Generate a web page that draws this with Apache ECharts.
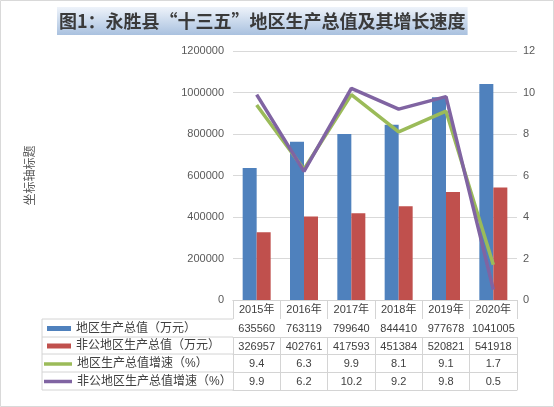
<!DOCTYPE html>
<html><head><meta charset="utf-8">
<script src="https://cdn.jsdelivr.net/npm/echarts@6/dist/echarts.min.js"></script>
<style>html,body{margin:0;padding:0;background:#fff}#c{width:554px;height:407px}</style>
</head><body><div id="c"></div>
<script>
const categories = ['2015年','2016年','2017年','2018年','2019年','2020年'];
const gdp = [635560, 763119, 799640, 844410, 977678, 1041005];
const nonPublicGdp = [326957, 402761, 417593, 451384, 520821, 541918];
const gdpGrowth = [9.4, 6.3, 9.9, 8.1, 9.1, 1.7];
const nonPublicGrowth = [9.9, 6.2, 10.2, 9.2, 9.8, 0.5];
const seriesNames = ['地区生产总值（万元）','非公地区生产总值（万元）','地区生产总值增速（%）','非公地区生产总值增速（%）'];
const titleText = '图1：永胜县“十三五”地区生产总值及其增长速度';
const leftAxisName = '坐标轴标题';
const leftScale = {min: 0, max: 1200000, interval: 200000};
const rightScale = {min: 0, max: 12, interval: 2};

const FONT = '"Liberation Sans", "Noto Sans CJK SC", sans-serif';
const LINE = '#d4d4d4';
const TXT = '#404040';
const AX = '#595959';
const colors = ['#4f81bd', '#c0504d', '#9bbb59', '#8064a2'];

const gridTop = 51, gridBottomY = 300, gridLeft = 233, gridRight = 517, W = 554, H = 407;
const rowLines = [300, 319, 337, 354, 372, 390];
const rowTexts = [
  gdp.map(String),
  nonPublicGdp.map(String),
  gdpGrowth.map(v => v.toFixed(1)),
  nonPublicGrowth.map(v => v.toFixed(1))
];

const xAxes = [{
  type: 'category', data: categories, position: 'bottom', offset: 0,
  axisLine: {show: true, lineStyle: {color: LINE}},
  axisTick: {show: true, interval: 0, length: rowLines[1] - rowLines[0], lineStyle: {color: LINE}},
  axisLabel: {margin: 4, color: TXT, fontSize: 11, fontFamily: FONT, interval: 0}
}];
rowTexts.forEach((row, k) => {
  xAxes.push({
    type: 'category', data: categories, position: 'bottom', offset: rowLines[k + 1] - gridBottomY,
    axisLine: {show: true, lineStyle: {color: LINE}},
    axisTick: {show: true, interval: 0, length: rowLines[k + 2] - rowLines[k + 1], lineStyle: {color: LINE}},
    axisLabel: {margin: 4.5, color: TXT, fontSize: 11, fontFamily: FONT, interval: 0,
      formatter: (v, i) => row[i]}
  });
});
xAxes.push({
  type: 'category', data: categories, position: 'bottom', offset: rowLines[5] - gridBottomY,
  axisLine: {show: true, lineStyle: {color: LINE}}, axisTick: {show: false}, axisLabel: {show: false}
});

const graphics = [{
  type: 'rect', shape: {x: 0.5, y: 0.5, width: W - 1, height: H - 1},
  style: {fill: 'none', stroke: '#d9d9d9', lineWidth: 1}, silent: true
}];
rowLines.slice(1).forEach(y => graphics.push({
  type: 'line', shape: {x1: 42, y1: y, x2: gridLeft, y2: y},
  style: {stroke: LINE, lineWidth: 1}, silent: true
}));
graphics.push({type: 'line', shape: {x1: 42, y1: rowLines[1], x2: 42, y2: rowLines[5]},
  style: {stroke: LINE, lineWidth: 1}, silent: true});

const legendText = {fontSize: 12, color: TXT, fontFamily: FONT, lineHeight: 17};
const option = {
  animation: false,
  textStyle: {fontFamily: FONT},
  title: {
    text: titleText, left: 57, top: 7,
    padding: [4, 2],
    backgroundColor: new echarts.graphic.LinearGradient(0, 0, 0, 1, [
      {offset: 0, color: '#eef3fa'}, {offset: 1, color: '#a9c1df'}]),
    textStyle: {fontSize: 18, fontWeight: 'bold', color: '#3a3a3a', fontFamily: '"Noto Sans CJK SC", sans-serif', lineHeight: 20}
  },
  legend: [{
    orient: 'vertical', left: 47, top: 320, itemGap: 0.5, itemWidth: 24, itemHeight: 5, padding: 0,
    icon: 'rect', textStyle: legendText,
    data: [seriesNames[0], seriesNames[1]]
  }, {
    orient: 'vertical', left: 44, top: 355.5, itemGap: 0.5, itemWidth: 28, itemHeight: 3.5, padding: 0,
    icon: 'rect', textStyle: legendText,
    data: [seriesNames[2], seriesNames[3]]
  }],
  grid: {left: gridLeft, right: W - gridRight, top: gridTop, bottom: H - gridBottomY, containLabel: false},
  xAxis: xAxes,
  yAxis: [{
    type: 'value', min: leftScale.min, max: leftScale.max, interval: leftScale.interval,
    name: leftAxisName, nameLocation: 'middle', nameGap: 198, nameRotate: 90,
    nameTextStyle: {fontSize: 12, color: AX, fontFamily: '"Noto Sans CJK SC", sans-serif'},
    axisLine: {show: false}, axisTick: {show: false},
    axisLabel: {color: AX, fontSize: 11, margin: 9, fontFamily: FONT, formatter: v => String(v)},
    splitLine: {lineStyle: {color: '#d9d9d9'}}
  }, {
    type: 'value', min: rightScale.min, max: rightScale.max, interval: rightScale.interval,
    position: 'right',
    axisLine: {show: false}, axisTick: {show: false},
    axisLabel: {color: AX, fontSize: 11, margin: 6, fontFamily: FONT},
    splitLine: {show: false}
  }],
  series: [
    {name: seriesNames[0], type: 'bar', data: gdp, barWidth: 14, barGap: '0%', itemStyle: {color: colors[0]}},
    {name: seriesNames[1], type: 'bar', data: nonPublicGdp, barWidth: 14, barGap: '0%', itemStyle: {color: colors[1]}},
    {name: seriesNames[2], type: 'line', yAxisIndex: 1, data: gdpGrowth, symbol: 'none',
      lineStyle: {color: colors[2], width: 3.5}, itemStyle: {color: colors[2]}},
    {name: seriesNames[3], type: 'line', yAxisIndex: 1, data: nonPublicGrowth, symbol: 'none',
      lineStyle: {color: colors[3], width: 3.5}, itemStyle: {color: colors[3]}}
  ],
  graphic: graphics
};
const chart = echarts.init(document.getElementById('c'), null, {renderer: 'canvas'});
chart.setOption(option);
</script></body></html>
